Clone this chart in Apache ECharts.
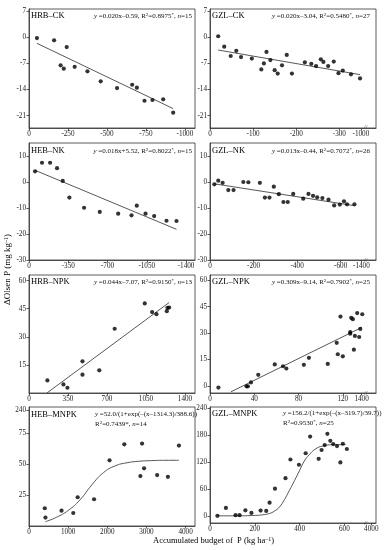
<!DOCTYPE html>
<html><head><meta charset="utf-8">
<script src="https://cdn.jsdelivr.net/npm/echarts@6/dist/echarts.min.js"></script>
<style>html,body{margin:0;padding:0;background:#fff}
#wrap{position:relative;width:384px;height:550px}
#a,#b{position:absolute;left:0;top:0;width:384px;height:550px}
#b{pointer-events:none}</style>
</head><body><div id="wrap"><div id="a"></div><div id="b"></div></div><script>
// ---------- data ----------
const hrbCkX = [-51,-161,-242,-203,-223,-293,-375,-460,-565,-662,-692,-741,-792,-861,-925];
const hrbCkY = [-0.2,-0.8,-2.6,-7.5,-8.4,-7.9,-9.1,-11.8,-13.6,-12.7,-13.5,-17,-16.8,-16.6,-20.2];
const hrbCkFitX = [-51,-925];
const hrbCkFitY = [-1.6,-19.1];

const gzlCkX = [-19,-33,-48,-61,-72,-97,-119,-125,-131,-140,-150,-157,-167,-178,-190,-220,-235,-246,-257,-263,-274,-287,-298,-308,-327,-348];
const gzlCkY = [0.3,-2.5,-5.0,-3.6,-5.3,-5.7,-8.6,-7.0,-3.9,-6.1,-8.8,-9.7,-7.5,-4.7,-9.7,-6.7,-7.1,-7.7,-5.9,-6.6,-7.7,-6.5,-9.6,-8.9,-9.9,-11.0];
const gzlCkFitX = [-19,-348];
const gzlCkFitY = [-3.4,-10.0];

const hebNkX = [-54,-116,-188,-250,-301,-360,-491,-631,-795,-914,-961,-1039,-1116,-1226,-1315];
const hebNkY = [4.1,7.4,7.4,5.3,0.4,-6.0,-9.9,-11.5,-12.2,-12.8,-9.1,-12.2,-13.1,-14.9,-15.0];
const hebNkFitX = [-54,-1315];
const hebNkFitY = [4.5,-18.2];

const gzlNkX = [-20,-38,-58,-84,-108,-153,-176,-229,-252,-273,-293,-316,-337,-357,-382,-428,-452,-473,-492,-516,-544,-570,-596,-615,-629,-663];
const gzlNkY = [-0.9,0.5,-0.3,-3.1,-3.1,0,-0.1,-0.3,-6.0,-6.0,-1.8,-4.7,-7.7,-7.7,-4.6,-6.4,-4.6,-5.3,-5.9,-6.2,-6.8,-9.0,-8.7,-7.4,-8.6,-8.6];
const gzlNkFitX = [-20,-663];
const gzlNkFitY = [-0.7,-9.1];

const hrbNpkX = [165,309,345,480,480,631,769,1039,1105,1144,1237,1243,1258];
const hrbNpkY = [6.7,4.6,2.8,16.9,9.8,12.1,34.3,47.8,43.2,42.1,43.7,45.5,45.6];
const hrbNpkFitX = [161,1258];
const hrbNpkFitY = [0,48.3];

const gzlNpkX = [7.6,33,34.2,37,43.6,58.5,66,69,84.8,89.4,106.4,114.5,115.5,117.9,120,126.7,126.7,127.6,129.1,130,130.9,133,134.8,135.8,137.6];
const gzlNpkY = [-0.9,-0.2,-0.2,2.0,6.3,12.2,11.2,9.9,12.0,16.0,12.5,24.5,18.0,39.4,16.8,30.6,29.7,38.7,37.9,20.6,28.4,41.4,27.8,32.4,40.7];
const gzlNpkFitX = [19,137];
const gzlNpkFitY = [-3.3,33.2];

const hebMnpkX = [403,420,831,1131,1243,1662,2057,2434,2845,2888,2939,3273,3548,3830];
const hebMnpkY = [14.3,6.8,12.4,10.5,23.2,21.6,53.0,65.9,40.3,66.5,46.5,41.1,39.7,64.9];
const hebMnpkFitX = [420,700,1000,1300,1600,1900,2200,2500,2800,3100,3500,3830];
const hebMnpkFitY = [3.5,7,12.5,21,33,43,48.5,51,52.2,52.7,53,53];

const gzlMnpkX = [33,71,114,132,158,185,226,251,266,290,337,359,397,427,447,485,498,512,524,537,550,567,582,593,611];
const gzlMnpkY = [0,17.6,1.5,1.5,12.4,6.6,11.7,11,29.3,60.7,84.1,125.8,114.1,139.7,177,127.3,147,158,183,167.5,160.2,155.8,119.2,160.9,149.2];
const gzlMnpkFitX = [34,116,191,235,265,287,310,332,354,377,399,421,444,473,503,548,606];
const gzlMnpkFitY = [0,0,0.7,2.3,5.2,10.3,19.8,35.9,56.4,78.4,100.3,122.3,136.9,150,155.9,158.8,159];

// tick values and tick labels
const ticksY1 = [-21,-14,-7,0,7];
const labelsY1 = [-21,-14,-7,0];
const topLabelY1 = 7;
const ticksY2 = [-30,-20,-10,0,10];
const labelsY2 = [-30,-20,-10,0];
const topLabelY2 = 10;
const ticksY5 = [15,30,45,60];
const ticksY6 = [0,15,30,45,60];
const ticksY7 = [25,50,75,93.5];
const ticksY7Labels = {'93.5':'240'};
const ticksY8 = [0,60,120,180,240];
const ticksX1 = [0,-250,-500,-750,-1000];
const ticksX2 = [0,-100,-200,-300,-350];
const ticksX2Labels = {'-350':'-1000'};
const ticksX3 = [0,-350,-700,-1050,-1400];
const ticksX4 = [0,-200,-400,-600,-695];
const ticksX4Labels = {'-695':'-1400'};
const ticksX5 = [0,350,700,1050,1400];
const ticksX6 = [0,40,80,120,137];
const ticksX6Labels = {'137':'1400'};
const ticksX7 = [0,1000,2000,3000,4000];
const ticksX8 = [0,200,400,600,720];
const ticksX8Labels = {'720':'4000'};

// ---------- chart ----------
const FONT = 'Liberation Serif';
const L = 29, R = 210, W = 166;
const panels = [
  {grid:[L,9,W,119], x:[-1065,0,true,ticksX1,{}], y:[-24.3,7.6,ticksY1,{},labelsY1], top:topLabelY1, sx:hrbCkX, sy:hrbCkY, fx:hrbCkFitX, fy:hrbCkFitY},
  {grid:[R,9,W,119], x:[-385,0,true,ticksX2,ticksX2Labels], y:[-24.3,7.6,ticksY1,{},labelsY1], top:topLabelY1, sx:gzlCkX, sy:gzlCkY, fx:gzlCkFitX, fy:gzlCkFitY},
  {grid:[L,143,W,117], x:[-1480,0,true,ticksX3,{}], y:[-30,15,ticksY2,{},labelsY2], top:topLabelY2, sx:hebNkX, sy:hebNkY, fx:hebNkFitX, fy:hebNkFitY},
  {grid:[R,143,W,117], x:[-762,0,true,ticksX4,ticksX4Labels], y:[-30,15,ticksY2,{},labelsY2], top:topLabelY2, sx:gzlNkX, sy:gzlNkY, fx:gzlNkFitX, fy:gzlNkFitY},
  {grid:[L,275,W,118], x:[0,1490,false,ticksX5,{}], y:[0,63,ticksY5,{}], sx:hrbNpkX, sy:hrbNpkY, fx:hrbNpkFitX, fy:hrbNpkFitY},
  {grid:[R,275,W,118], x:[0,150,false,ticksX6,ticksX6Labels], y:[-4,63,ticksY6,{}], sx:gzlNpkX, sy:gzlNpkY, fx:gzlNpkFitX, fy:gzlNpkFitY},
  {grid:[L,407,W,119], x:[0,4240,false,ticksX7,{}], y:[0,96,ticksY7,ticksY7Labels], sx:hebMnpkX, sy:hebMnpkY, fx:hebMnpkFitX, fy:hebMnpkFitY, smooth:true},
  {grid:[R,407,W,116], x:[0,741,false,ticksX8,ticksX8Labels], y:[-16,243,ticksY8,{}], sx:gzlMnpkX, sy:gzlMnpkY, fx:gzlMnpkFitX, fy:gzlMnpkFitY, smooth:true}
];

const lab = (vals, map) => ({customValues: vals, fontFamily: FONT, fontSize: 7.2, color: '#222', margin: 3,
  showMinLabel: true, showMaxLabel: true, hideOverlap: false,
  formatter: v => (map[String(v)] !== undefined ? map[String(v)] : String(v))});

function build(list) {
  const grids = [], xAxes = [], yAxes = [], series = [];
  list.forEach((p, i) => {
    grids.push({left: p.grid[0], top: p.grid[1], width: p.grid[2], height: p.grid[3], show: true,
      borderColor: '#333', borderWidth: 0.8, containLabel: false});
    xAxes.push({type: 'value', gridIndex: i, min: p.x[0], max: p.x[1], inverse: p.x[2],
      axisLine: {show: true, onZero: false, lineStyle: {color: '#333', width: 0.8}},
      axisTick: {show: true, customValues: p.x[3], length: 2.5, inside: false, lineStyle: {color: '#333', width: 0.8}},
      axisLabel: lab(p.x[3], p.x[4]), splitLine: {show: false}});
    yAxes.push({type: 'value', gridIndex: i, min: p.y[0], max: p.y[1],
      axisLine: {show: true, onZero: false, lineStyle: {color: '#333', width: 0.8}},
      axisTick: {show: true, customValues: p.y[2], length: 2.5, inside: false, lineStyle: {color: '#333', width: 0.8}},
      axisLabel: lab(p.y[4] || p.y[2], p.y[3]), splitLine: {show: false}});
    series.push({type: 'line', xAxisIndex: i, yAxisIndex: i, showSymbol: false, smooth: !!p.smooth,
      lineStyle: {color: '#444', width: 0.9}, data: p.fx.map((x, k) => [x, p.fy[k]]), silent: true, z: 2});
    series.push({type: 'scatter', xAxisIndex: i, yAxisIndex: i, symbol: 'circle', symbolSize: 4.2,
      itemStyle: {color: '#000'}, data: p.sx.map((x, k) => [x, p.sy[k]]), z: 3});
  });
  return {grids, xAxes, yAxes, series};
}

const richBase = {
  t: {fontFamily: FONT, fontSize: 7, fill: '#111'},
  i: {fontFamily: FONT, fontSize: 7, fontStyle: 'italic', fill: '#111'},
  s: {fontFamily: FONT, fontSize: 5, fill: '#111', verticalAlign: 'top', padding: [0,0,4,0]}
};
function eq(fit, r2, n) {
  return '{i|y}{t| =' + fit + ', R}{s|2}{t|=' + r2 + '}{s|*}{t|, }{i|n}{t|=' + n + '}';
}
const panelNames = [
  ['HRB\u2013CK', 31, 11], ['GZL\u2013CK', 212, 11],
  ['HEB\u2013NK', 31, 146], ['GZL\u2013NK', 212, 146],
  ['HRB\u2013NPK', 31, 277], ['GZL\u2013NPK', 212, 277],
  ['HEB\u2013MNPK', 31, 410], ['GZL\u2013MNPK', 212, 409]
];
const graphics = panelNames.map(p => ({type: 'text', left: p[1], top: p[2],
  style: {text: p[0], fontFamily: FONT, fontSize: 8.5, fill: '#000'}}));
const eqs = [
  [eq('0.020x\u20130.59', '0.8975', 15), 192, 12],
  [eq('0.020x\u20133.04', '0.5480', 27), 370, 12],
  [eq('0.018x+5.52', '0.8022', 15), 192, 147],
  [eq('0.013x\u20130.44', '0.7072', 26), 370, 147],
  [eq('0.044x\u20137.07', '0.9150', 13), 192, 278],
  [eq('0.309x\u20139.14', '0.7902', 25), 370, 278]
];
eqs.forEach(e => graphics.push({type: 'text', right: 384 - e[1], top: e[2],
  style: {text: e[0], rich: richBase, fontFamily: FONT, fontSize: 7}}));
graphics.push({type: 'text', left: 95, top: 411,
  style: {text: '{i|y}{t| =52.0/(1+exp(\u2013(x\u20131314.3)/388.6))}', rich: richBase}});
graphics.push({type: 'text', left: 95, top: 420,
  style: {text: '{t|R}{s|2}{t|=0.7439*, }{i|n}{t|=14}', rich: richBase}});
graphics.push({type: 'text', left: 283, top: 410,
  style: {text: '{i|y}{t| =156.2/(1+exp(\u2013(x\u2013319.7)/39.7))}', rich: richBase}});
graphics.push({type: 'text', left: 283, top: 419,
  style: {text: '{t|R}{s|2}{t|=0.9530}{s|*}{t|, }{i|n}{t|=25}', rich: richBase}});
[[364,124],[364,257],[364,390],[364,520]].forEach(b => graphics.push({type: 'text', left: b[0], top: b[1],
  style: {text: '//', fontFamily: FONT, fontSize: 6, fill: '#333'}}));
graphics.push({type: 'text', left: 153, top: 536,
  style: {text: 'Accumulated budget of  P (kg ha{s|\u20131}{t|)}', rich: {t: {fontFamily: FONT, fontSize: 8.5, fill: '#000'}, s: {fontFamily: FONT, fontSize: 6, fill: '#000', verticalAlign: 'top'}}, fontFamily: FONT, fontSize: 8.5, fill: '#000'}});
graphics.push({type: 'text', x: 3, y: 305, rotation: Math.PI / 2,
  style: {text: '\u0394Olsen P (mg kg{s|\u20131}{t|)}', rich: {t: {fontFamily: FONT, fontSize: 9, fill: '#000'}, s: {fontFamily: FONT, fontSize: 6, fill: '#000', verticalAlign: 'top'}}, fontFamily: FONT, fontSize: 9, fill: '#000'}});

// chart A: upper four panels; chart B (transparent overlay): lower four panels and all text
const A = build(panels.slice(0, 4));
const B = build(panels.slice(4));
const chartA = echarts.init(document.getElementById('a'), null, {renderer: 'canvas'});
chartA.setOption({animation: false, backgroundColor: '#fff', grid: A.grids, xAxis: A.xAxes, yAxis: A.yAxes, series: A.series});

// top tick labels of the upper panels, placed through the library's own y scale
panels.slice(0, 4).forEach((p, i) => {
  const py = chartA.convertToPixel({yAxisIndex: i}, p.top);
  graphics.push({type: 'text', z: 100,
    style: {text: String(p.top), x: p.grid[0] - 3, y: py, align: 'right', verticalAlign: 'middle',
      fontFamily: FONT, fontSize: 7.2, fill: '#222'}});
});

const chartB = echarts.init(document.getElementById('b'), null, {renderer: 'canvas'});
chartB.setOption({animation: false, backgroundColor: 'transparent', grid: B.grids, xAxis: B.xAxes, yAxis: B.yAxes, series: B.series, graphic: graphics});
</script></body></html>
